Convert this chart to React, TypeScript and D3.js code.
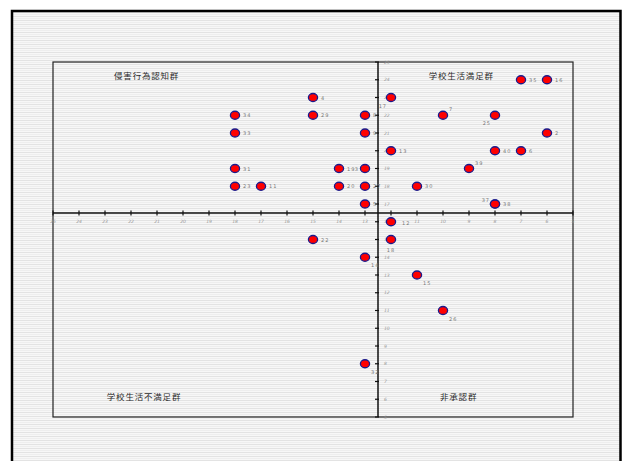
import React from "react";
import * as d3 from "d3";

const xTicks = [25, 24, 23, 22, 21, 20, 19, 18, 17, 16, 15, 14, 13, 12, 11, 10, 9, 8, 7, 6, 5];
const yTicks = [5, 6, 7, 8, 9, 10, 11, 12, 13, 14, 15, 16, 17, 18, 19, 20, 21, 22, 23, 24, 25];

const pointX = [7, 6, 12, 15, 18, 15, 13, 10, 8, 18, 13, 6, 12, 8, 7, 18, 14, 13, 9, 18, 17, 14, 13, 11, 13, 8, 8, 12, 15, 12, 13, 11, 10, 13];
const pointY = [24, 24, 23, 23, 22, 22, 22, 22, 22, 21, 21, 21, 20, 20, 20, 19, 19, 19, 19, 18, 18, 18, 18, 18, 17, 17, 17, 16, 15, 15, 14, 13, 11, 8];
const pointLabels = ["35", "16", "17", "4", "34", "29", "8", "7", "25", "33", "9", "2", "13", "40", "6", "31", "19", "3", "39", "23", "11", "20", "27", "30", "5", "38", "37", "12", "22", "18", "14", "15", "26", "32"];
const labelPlace = ["r", "r", "bl", "r", "r", "r", "r", "ur", "bl", "r", "r", "r", "r", "r", "r", "r", "r", "l", "ur", "r", "r", "r", "r", "r", "r", "r", "ul", "rr", "r", "b", "br", "br", "br", "br"];

const quadrantLabels = ["侵害行為認知群", "学校生活満足群", "学校生活不満足群", "非承認群"];
const quadrantPos = [[21.4, 24.15], [9.3, 24.15], [21.5, 6.07], [9.4, 6.07]];

const xCross = 12.5;
const yCross = 16.5;

export default function App() {
  const W = 622;
  const H = 461;
  const x = d3.scaleLinear().domain([25, 5]).range([53, 573]);
  const y = d3.scaleLinear().domain([5, 25]).range([417, 62]);
  const ax = x(xCross);
  const ay = y(yCross);

  const off = (p: string): [number, number, string] => {
    switch (p) {
      case "ur": return [6, -4, "start"];
      case "ul": return [-5, -2, "end"];
      case "bl": return [-4, 10, "end"];
      case "l": return [-6, 2, "end"];
      case "b": return [0, 12, "middle"];
      case "br": return [6, 10, "start"];
      case "rr": return [11, 3, "start"];
      default: return [8, 2, "start"];
    }
  };

  return (
    <svg width={W} height={H} style={{ position: "absolute", left: 0, top: 0 }} fontFamily="'DejaVu Sans', sans-serif">
      <defs>
        <pattern id="stripes" width="6" height="4" patternUnits="userSpaceOnUse">
          <rect width="6" height="4" fill="#f7f7f7" />
          <rect y="0" width="6" height="1" fill="#e3e3e3" />
          <rect y="2" width="6" height="1" fill="#eeeeee" />
        </pattern>
      </defs>
      <rect width={W} height={H} fill="#ffffff" />
      <rect x={12} y={11} width={609} height={H - 11} fill="url(#stripes)" />
      <path d={`M12,${H} L12,11 L620.5,11 L620.5,${H}`} fill="none" stroke="#000" strokeWidth={2.5} />
      <rect x={x(25)} y={y(25)} width={x(5) - x(25)} height={y(5) - y(25)} fill="none" stroke="#222" strokeWidth={1.2} />

      {/* axes */}
      <line x1={x(25)} x2={x(5)} y1={ay} y2={ay} stroke="#111" strokeWidth={1.5} />
      <line x1={ax} x2={ax} y1={y(25)} y2={y(5)} stroke="#111" strokeWidth={1.5} />
      {xTicks.map((t) => (
        <g key={"xt" + t}>
          <line x1={x(t)} x2={x(t)} y1={ay - 2.5} y2={ay + 2.5} stroke="#111" strokeWidth={1.2} />
          <text x={x(t)} y={ay + 10} fontSize={4.5} fill="#999" textAnchor="middle" fontStyle="italic">{t}</text>
        </g>
      ))}
      {yTicks.map((t) => (
        <g key={"yt" + t}>
          <line x1={ax - 3} x2={ax + 1} y1={y(t)} y2={y(t)} stroke="#111" strokeWidth={1.2} />
          <text x={ax + 6} y={y(t) + 1.5} fontSize={4.5} fill="#999" textAnchor="start" fontStyle="italic">{t}</text>
        </g>
      ))}

      {/* quadrant labels */}
      {quadrantLabels.map((q, i) => (
        <text key={q} x={x(quadrantPos[i][0])} y={y(quadrantPos[i][1])} fontSize={8.5} fill="#2a2a2a" textAnchor="middle" dominantBaseline="middle" fontFamily="'Noto Sans CJK JP', sans-serif" letterSpacing={0.8}>{q}</text>
      ))}

      {/* points */}
      {pointX.map((px, i) => (
        <ellipse key={"p" + i} cx={x(px)} cy={y(pointY[i])} rx={4.6} ry={4} fill="#ff0000" stroke="#1a1a8c" strokeWidth={1.3} />
      ))}
      {pointX.map((px, i) => {
        const [dx, dy, anchor] = off(labelPlace[i]);
        return (
          <text key={"l" + i} x={x(px) + dx} y={y(pointY[i]) + dy} fontSize={5} fill="#777" textAnchor={anchor} letterSpacing={1}>{pointLabels[i]}</text>
        );
      })}
    </svg>
  );
}
